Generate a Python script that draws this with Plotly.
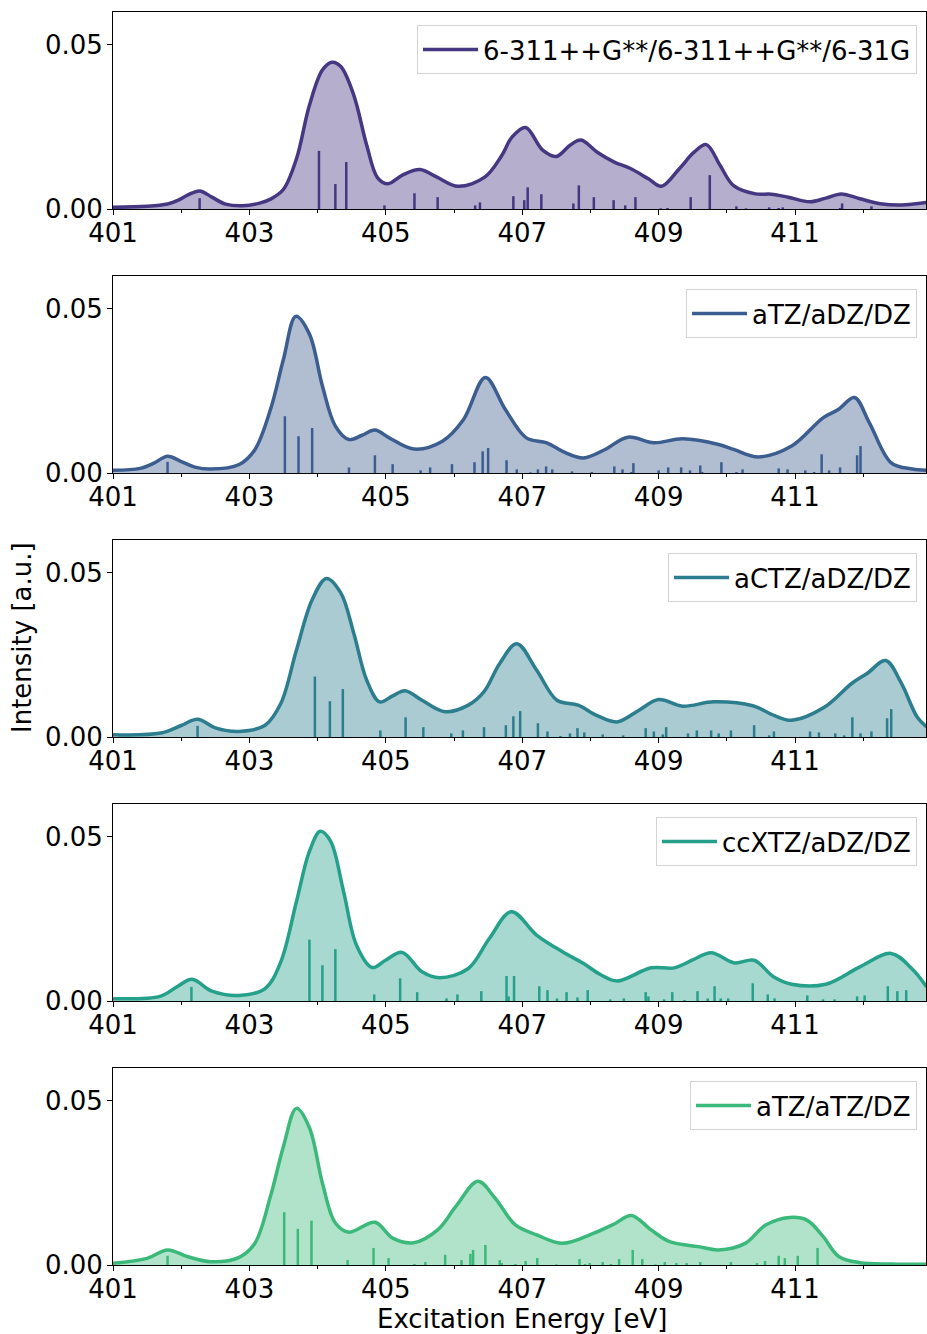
import plotly.graph_objects as go

# ---- data -------------------------------------------------------------
labels = [
    "6-311++G**/6-311++G**/6-31G",
    "aTZ/aDZ/DZ",
    "aCTZ/aDZ/DZ",
    "ccXTZ/aDZ/DZ",
    "aTZ/aTZ/DZ",
]
colors = ["#453781", "#3b5d8f", "#2c7d8e", "#25a08a", "#3bb97a"]

# broadened spectra (energy in eV, intensity in a.u.)
spec1_e = [401.0, 401.5, 401.8, 401.95, 402.1, 402.27, 402.45, 402.65, 402.9, 403.15, 403.31, 403.5,
           403.69, 403.88, 404.07, 404.21, 404.34, 404.53, 404.72, 404.88, 405.03, 405.25, 405.5,
           405.75, 406.06, 406.45, 406.7, 406.85, 407.05, 407.3, 407.5, 407.7, 407.86, 408.1, 408.35,
           408.58, 408.85, 409.04, 409.3, 409.52, 409.7, 409.9, 410.1, 410.42, 410.65, 410.9, 411.22,
           411.45, 411.68, 411.95, 412.25, 412.56, 412.93]
spec1_i = [0.0005, 0.0008, 0.0015, 0.0026, 0.0043, 0.0055, 0.0036, 0.0015, 0.001, 0.0018, 0.003, 0.006,
           0.0153, 0.0316, 0.0423, 0.0447, 0.0434, 0.0347, 0.0194, 0.0095, 0.0077, 0.0104, 0.012,
           0.0097, 0.0069, 0.0097, 0.0163, 0.0219, 0.0248, 0.0179, 0.016, 0.0194, 0.021, 0.0173, 0.0143,
           0.0124, 0.0092, 0.0069, 0.0122, 0.0173, 0.0196, 0.0133, 0.0071, 0.0046, 0.0045, 0.0036, 0.0022,
           0.0033, 0.0046, 0.0031, 0.0016, 0.0012, 0.002]

spec2_e = [401.0, 401.4, 401.6, 401.8, 402.0, 402.2, 402.43, 402.85, 403.08, 403.31, 403.5, 403.68,
           403.88, 404.07, 404.26, 404.46, 404.65, 404.84, 405.05, 405.41, 405.83, 406.14, 406.46,
           406.75, 407.06, 407.36, 407.6, 407.9, 408.2, 408.55, 408.93, 409.35, 409.88, 410.11, 410.46,
           410.95, 411.41, 411.64, 411.87, 412.09, 412.41, 412.72, 412.93]
spec2_i = [0.0008, 0.0014, 0.003, 0.0051, 0.0035, 0.0018, 0.0012, 0.0026, 0.0071, 0.0194, 0.0347, 0.0477,
           0.0423, 0.0265, 0.0143, 0.0102, 0.0115, 0.0131, 0.0107, 0.0073, 0.0097, 0.0163, 0.0291,
           0.0194, 0.0107, 0.0092, 0.0065, 0.0046, 0.007, 0.0109, 0.0092, 0.0104, 0.0087, 0.0071, 0.0049,
           0.0082, 0.0168, 0.0194, 0.023, 0.0153, 0.0031, 0.0012, 0.0008]

spec3_e = [401.0, 401.7, 402.0, 402.24, 402.5, 402.85, 403.23, 403.46, 403.69, 403.92, 404.13, 404.34,
           404.53, 404.72, 404.91, 405.1, 405.28, 405.53, 405.87, 406.21, 406.44, 406.67, 406.92,
           407.21, 407.51, 407.82, 408.1, 408.39, 408.7, 409.0, 409.35, 409.81, 410.38, 410.7, 410.95,
           411.44, 411.83, 412.06, 412.33, 412.56, 412.79, 412.93]
spec3_i = [0.0007, 0.0012, 0.0035, 0.0054, 0.0028, 0.0017, 0.0036, 0.0102, 0.0265, 0.0418, 0.0483, 0.0439,
           0.0316, 0.0173, 0.0107, 0.0125, 0.0141, 0.0112, 0.0077, 0.0097, 0.0138, 0.0224, 0.0284,
           0.0204, 0.0112, 0.0097, 0.0065, 0.0046, 0.008, 0.0114, 0.0094, 0.0107, 0.0095, 0.0065, 0.0051,
           0.0092, 0.0163, 0.0194, 0.0233, 0.0163, 0.0061, 0.0031]

spec4_e = [401.0, 401.7, 401.95, 402.16, 402.45, 402.85, 403.23, 403.46, 403.69, 403.88, 404.04, 404.19,
           404.38, 404.57, 404.8, 405.0, 405.24, 405.53, 405.79, 406.21, 406.52, 406.84, 407.21, 407.59,
           407.9, 408.15, 408.39, 408.89, 409.23, 409.5, 409.77, 410.11, 410.4, 410.69, 410.95, 411.45,
           411.95, 412.41, 412.71, 412.93]
spec4_i = [0.0007, 0.0015, 0.0045, 0.0066, 0.003, 0.0017, 0.0038, 0.0119, 0.0303, 0.0456, 0.0517, 0.0487,
           0.0334, 0.017, 0.0102, 0.0125, 0.0148, 0.0089, 0.0071, 0.0099, 0.0191, 0.0272, 0.0201, 0.015,
           0.0114, 0.008, 0.0061, 0.0101, 0.0101, 0.0125, 0.0147, 0.0116, 0.0124, 0.0073, 0.0051, 0.0051,
           0.0104, 0.0145, 0.0099, 0.0043]

spec5_e = [401.0, 401.5, 401.8, 402.1, 402.43, 402.85, 403.08, 403.31, 403.5, 403.69, 403.88, 404.07,
           404.26, 404.46, 404.84, 405.1, 405.41, 405.76, 406.03, 406.35, 406.6, 406.9, 407.21, 407.59,
           408.05, 408.35, 408.6, 408.89, 409.16, 409.58, 409.88, 410.27, 410.57, 410.92, 411.18, 411.41,
           411.64, 411.95, 412.41, 412.93]
spec5_i = [0.0005, 0.002, 0.0046, 0.0025, 0.001, 0.0023, 0.0066, 0.021, 0.0362, 0.0477, 0.0418, 0.025,
           0.0128, 0.01, 0.013, 0.0082, 0.0068, 0.0107, 0.0179, 0.0255, 0.0204, 0.0122, 0.0092, 0.0066,
           0.0097, 0.0125, 0.0151, 0.0107, 0.0071, 0.0056, 0.0046, 0.0066, 0.0122, 0.0145, 0.0136, 0.0087,
           0.0026, 0.0007, 0.0003, 0.0002]

# individual transitions (energy, oscillator strength)
stick1_e = [402.27, 404.02, 404.26, 404.42, 404.98, 405.42, 405.76, 406.31, 406.38, 406.87, 407.03,
            407.08, 407.28, 407.75, 407.83, 408.05, 408.34, 408.51, 408.66, 409.03, 409.13, 409.47,
            409.75, 410.14, 410.28, 410.62, 410.76, 410.82, 411.66, 411.69, 412.12]
stick1_f = [0.0033, 0.0177, 0.0076, 0.0143, 0.0011, 0.0048, 0.0036, 0.0011, 0.002, 0.0039, 0.0027,
            0.0066, 0.0045, 0.0017, 0.0072, 0.0036, 0.0027, 0.0011, 0.0036, 0.0002, 0.0003, 0.0036,
            0.0103, 0.0008, 0.0002, 0.0005, 0.0003, 0.0005, 0.0003, 0.0017, 0.0008]

stick2_e = [401.8, 403.52, 403.72, 403.92, 404.46, 404.84, 405.1, 405.51, 405.65, 405.97, 406.3, 406.42,
            406.5, 406.77, 406.92, 407.12, 407.23, 407.35, 407.44, 407.73, 408.02, 408.35, 408.47,
            408.6, 408.63, 409.0, 409.14, 409.33, 409.46, 409.61, 409.64, 409.92, 410.14, 410.23,
            410.76, 410.89, 411.15, 411.28, 411.39, 411.5, 411.66, 411.91, 411.96]
stick2_f = [0.0034, 0.0173, 0.0112, 0.0137, 0.0017, 0.0054, 0.0027, 0.0008, 0.0017, 0.0027, 0.0033, 0.0066,
            0.0076, 0.0039, 0.0011, 0.0002, 0.0011, 0.002, 0.0011, 0.0005, 0.0003, 0.002, 0.0011,
            0.0003, 0.003, 0.0008, 0.0017, 0.0017, 0.0008, 0.0023, 0.0003, 0.0033, 0.0003, 0.0011,
            0.0014, 0.0011, 0.0008, 0.0003, 0.0057, 0.0008, 0.0017, 0.0054, 0.0082]

stick3_e = [402.24, 403.96, 404.18, 404.37, 404.92, 405.29, 405.55, 405.96, 406.13, 406.44, 406.76,
            406.87, 406.97, 407.23, 407.37, 407.56, 407.7, 407.81, 407.91, 408.18, 408.48, 408.81,
            408.93, 409.06, 409.11, 409.43, 409.56, 409.77, 409.88, 410.06, 410.4, 410.62, 410.69,
            411.22, 411.35, 411.59, 411.72, 411.84, 411.96, 412.12, 412.35, 412.41]
stick3_f = [0.0034, 0.0184, 0.0109, 0.0146, 0.002, 0.006, 0.003, 0.0011, 0.002, 0.003, 0.0036,
            0.0063, 0.0079, 0.0042, 0.0017, 0.0003, 0.0011, 0.0027, 0.0014, 0.0008, 0.0005, 0.0027,
            0.0017, 0.0008, 0.003, 0.0011, 0.002, 0.002, 0.0011, 0.002, 0.0036, 0.0005, 0.0017,
            0.0017, 0.0014, 0.0011, 0.0005, 0.006, 0.0011, 0.0017, 0.0057, 0.0085]

stick4_e = [402.15, 403.88, 404.07, 404.26, 404.83, 405.21, 405.46, 405.89, 406.05, 406.4, 406.77,
            406.8, 406.88, 407.25, 407.37, 407.51, 407.65, 407.81, 407.96, 408.29, 408.49, 408.81,
            408.85, 409.08, 409.2, 409.38, 409.57, 409.72, 409.82, 409.91, 410.02, 410.38, 410.6,
            410.7, 411.18, 411.41, 411.58, 411.91, 412.02, 412.36, 412.5, 412.63]
stick4_f = [0.0043, 0.0187, 0.0109, 0.0158, 0.002, 0.0069, 0.0027, 0.0008, 0.002, 0.003, 0.0076,
            0.0014, 0.0076, 0.0045, 0.0033, 0.0008, 0.0027, 0.0011, 0.0033, 0.0005, 0.0008, 0.0027,
            0.0014, 0.0005, 0.0027, 0.0003, 0.003, 0.0008, 0.0045, 0.0008, 0.0008, 0.0054, 0.002,
            0.0008, 0.0017, 0.0005, 0.0005, 0.0014, 0.0017, 0.0045, 0.003, 0.0033]

stick5_e = [401.8, 403.51, 403.71, 403.91, 404.44, 404.82, 405.04, 405.42, 405.58, 405.87, 406.11,
            406.24, 406.28, 406.46, 406.67, 406.7, 406.9, 407.05, 407.22, 407.5, 407.84, 407.92, 407.99,
            408.18, 408.3, 408.42, 408.62, 408.76, 408.95, 409.09, 409.26, 409.41, 409.61, 410.06,
            410.44, 410.56, 410.76, 410.85, 411.04, 411.33]
stick5_f = [0.0028, 0.0161, 0.011, 0.0135, 0.0015, 0.0052, 0.0021, 0.0003, 0.0009, 0.0031, 0.0015,
            0.0034, 0.0046, 0.0061, 0.0015, 0.0006, 0.0003, 0.0012, 0.0021, 0.0002, 0.0018, 0.0003, 0.0006,
            0.0009, 0.0003, 0.0018, 0.0046, 0.0018, 0.0002, 0.0009, 0.0006, 0.0006, 0.0009, 0.0009,
            0.0006, 0.0012, 0.0028, 0.0021, 0.0028, 0.0052]

spectra = [(spec1_e, spec1_i), (spec2_e, spec2_i), (spec3_e, spec3_i), (spec4_e, spec4_i), (spec5_e, spec5_i)]
sticks = [(stick1_e, stick1_f), (stick2_e, stick2_f), (stick3_e, stick3_f), (stick4_e, stick4_f), (stick5_e, stick5_f)]

x_ticks = [401, 403, 405, 407, 409, 411]
y_ticks = [0.0, 0.05]
x_range = [401, 412.92]
y_range = [0, 0.06]

# ---- figure -----------------------------------------------------------
FONT = "DejaVu Sans"
FS = 26
W, H = 927, 1334
M_L, M_R, M_T, M_B = 113, 1, 12, 69
panel_h, gap = 197, 67
plot_w = W - M_L - M_R
plot_h = H - M_T - M_B


def px_to_paper_x(px):
    return (px - M_L) / plot_w


def px_to_paper_y(py):
    return (H - M_B - py) / plot_h


def rgba(hex_color, a):
    h = hex_color.lstrip("#")
    r, g, b = int(h[0:2], 16), int(h[2:4], 16), int(h[4:6], 16)
    return f"rgba({r},{g},{b},{a})"


fig = go.Figure()
layout = dict(
    width=W, height=H,
    margin=dict(l=M_L, r=M_R, t=M_T, b=M_B),
    plot_bgcolor="white", paper_bgcolor="white",
    font=dict(family=FONT, size=FS, color="black"),
    showlegend=True,
)

for k in range(5):
    n = k + 1
    xa = "x" if n == 1 else f"x{n}"
    ya = "y" if n == 1 else f"y{n}"
    leg = "legend" if n == 1 else f"legend{n}"
    col = colors[k]
    e, inten = spectra[k]
    se, sf = sticks[k]

    # shaded area under the broadened spectrum
    fig.add_trace(go.Scatter(x=e, y=inten, mode="lines", xaxis=xa, yaxis=ya,
                             line=dict(color=col, width=0, shape="spline", smoothing=1.0),
                             fill="tozeroy", fillcolor=rgba(col, 0.4),
                             showlegend=False, hoverinfo="skip"))
    # stick spectrum: vertical segments separated by gaps
    sx, sy = [], []
    for xe, fe in zip(se, sf):
        sx += [xe, xe, None]
        sy += [0, fe, None]
    fig.add_trace(go.Scatter(x=sx, y=sy, mode="lines", xaxis=xa, yaxis=ya,
                             line=dict(color=col, width=2.5), showlegend=False,
                             hoverinfo="skip"))
    # broadened spectrum outline
    fig.add_trace(go.Scatter(x=e, y=inten, mode="lines", xaxis=xa, yaxis=ya,
                             line=dict(color=col, width=3.5, shape="spline", smoothing=1.0),
                             name=labels[k], legend=leg))

    top_px = M_T + k * (panel_h + gap)
    bot_px = top_px + panel_h

    layout["xaxis" if n == 1 else f"xaxis{n}"] = dict(
        domain=[0, 1], anchor=ya, range=x_range,
        tickmode="array", tickvals=x_ticks, ticktext=[str(v) for v in x_ticks],
        ticks="outside", ticklen=5, tickwidth=1, tickcolor="black",
        ticklabelstandoff=-4,
        minor=dict(dtick=1, tick0=401, ticks="outside", ticklen=3, tickwidth=1, tickcolor="black"),
        showline=True, linecolor="black", linewidth=1, mirror=True,
        showgrid=False, zeroline=False,
        tickfont=dict(family=FONT, size=FS, color="black"),
    )
    layout["yaxis" if n == 1 else f"yaxis{n}"] = dict(
        domain=[max(px_to_paper_y(bot_px), 0), min(px_to_paper_y(top_px), 1)],
        anchor=xa, range=y_range,
        tickmode="array", tickvals=y_ticks, ticktext=[f"{v:.2f}" for v in y_ticks],
        ticks="outside", ticklen=5, tickwidth=1, tickcolor="black",
        ticklabelstandoff=-1,
        showline=True, linecolor="black", linewidth=1, mirror=True,
        showgrid=False, zeroline=False,
        tickfont=dict(family=FONT, size=FS, color="black"),
    )
    layout[leg] = dict(
        x=px_to_paper_x(917), xanchor="right",
        y=px_to_paper_y(top_px + 13), yanchor="top",
        xref="paper", yref="paper",
        bgcolor="rgba(255,255,255,0.85)", bordercolor="#d4d4d4", borderwidth=1,
        font=dict(family=FONT, size=FS, color="black"),
        itemwidth=55,
    )

fig.update_layout(**layout)

fig.add_annotation(text="Intensity [a.u.]", x=px_to_paper_x(22), y=px_to_paper_y(638),
                   xref="paper", yref="paper", textangle=-90, showarrow=False,
                   xanchor="center", yanchor="middle",
                   font=dict(family=FONT, size=FS, color="black"))
fig.add_annotation(text="Excitation Energy [eV]", x=px_to_paper_x(522), y=px_to_paper_y(1319),
                   xref="paper", yref="paper", showarrow=False, xanchor="center", yanchor="middle",
                   font=dict(family=FONT, size=FS, color="black"))

fig.write_html("out.html")
